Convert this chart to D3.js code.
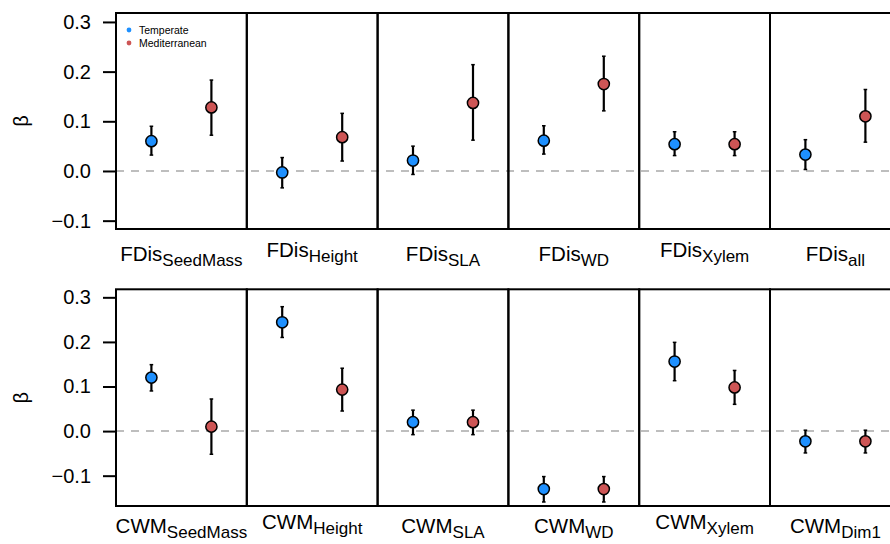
<!DOCTYPE html>
<html>
<head>
<meta charset="utf-8">
<script src="https://cdn.jsdelivr.net/npm/d3@7"></script>
<style>
  body { margin: 0; background: #fff; }
  svg { font-family: "Liberation Sans", Arial, Helvetica, sans-serif; }
</style>
</head>
<body>
<div id="chart"></div>
<script>
// series and categories
const series = ['Temperate', 'Mediterranean'];
const seriesColors = ['#1E90FF', '#CD5555'];
const yTicks = [-0.1, 0, 0.1, 0.2, 0.3];

const fdisTraits = ['SeedMass', 'Height', 'SLA', 'WD', 'Xylem', 'all'];
const cwmTraits = ['SeedMass', 'Height', 'SLA', 'WD', 'Xylem', 'Dim1'];

// FDis estimates (beta) with lower / upper interval
const fdisTemperate = [0.060, -0.003, 0.021, 0.061, 0.054, 0.033];
const fdisTemperateLo = [0.032, -0.034, -0.007, 0.034, 0.031, 0.003];
const fdisTemperateHi = [0.090, 0.027, 0.050, 0.091, 0.079, 0.063];
const fdisMediterranean = [0.128, 0.068, 0.137, 0.175, 0.054, 0.110];
const fdisMediterraneanLo = [0.072, 0.020, 0.062, 0.121, 0.031, 0.058];
const fdisMediterraneanHi = [0.183, 0.116, 0.214, 0.231, 0.079, 0.164];

// CWM estimates
const cwmTemperate = [0.120, 0.244, 0.020, -0.130, 0.156, -0.023];
const cwmTemperateLo = [0.090, 0.210, -0.008, -0.159, 0.113, -0.049];
const cwmTemperateHi = [0.149, 0.279, 0.047, -0.102, 0.199, 0.002];
const cwmMediterranean = [0.010, 0.093, 0.020, -0.130, 0.098, -0.023];
const cwmMediterraneanLo = [-0.052, 0.045, -0.008, -0.159, 0.060, -0.049];
const cwmMediterraneanHi = [0.072, 0.141, 0.047, -0.102, 0.136, 0.002];

const W = 890, H = 544;
const svg = d3.select('#chart').append('svg')
  .attr('width', W).attr('height', H);

function buildRows(traits, est, lo, hi) {
  const rows = [];
  traits.forEach((t, i) => {
    series.forEach((s, j) => {
      rows.push({ trait: t, series: s, color: seriesColors[j], v: est[j][i], lo: lo[j][i], hi: hi[j][i] });
    });
  });
  return rows;
}

function drawRow(opts) {
  const { traits, prefix, top, bottom, domain, rows, labelY, legend } = opts;

  const x = d3.scaleBand().domain(traits).range([116, 116 + 6 * 130.8]).padding(0);
  const xi = d3.scalePoint().domain(series).range([0, x.bandwidth()]).padding(0.59);
  const y = d3.scaleLinear().domain(domain).range([bottom, top]);

  const g = svg.append('g');

  // zero line
  g.append('line')
    .attr('x1', x.range()[0]).attr('x2', x.range()[1])
    .attr('y1', y(0)).attr('y2', y(0))
    .attr('stroke', '#BEBEBE').attr('stroke-width', 2)
    .attr('stroke-dasharray', '8,7');

  // panel boxes
  g.selectAll('rect.panel')
    .data(traits)
    .enter()
    .append('rect')
    .attr('class', 'panel')
    .attr('x', d => x(d))
    .attr('y', top)
    .attr('width', x.bandwidth())
    .attr('height', bottom - top)
    .attr('fill', 'none')
    .attr('stroke', '#000')
    .attr('stroke-width', 2);

  // y axis
  const axis = g.append('g')
    .attr('transform', `translate(116,0)`)
    .call(d3.axisLeft(y).tickValues(yTicks).tickSize(13).tickPadding(12).tickFormat(d3.format('.1f')));
  axis.select('.domain').remove();
  axis.selectAll('line').attr('stroke', '#000').attr('stroke-width', 2);
  axis.selectAll('text').attr('font-size', 20).attr('fill', '#000')
    .attr('font-family', '"Liberation Sans", Arial, sans-serif');

  // beta label
  g.append('text')
    .attr('transform', `translate(28,${(top + bottom) / 2}) rotate(-90)`)
    .attr('text-anchor', 'middle')
    .attr('font-size', 20)
    .text('β');

  // error bars
  const cx = d => x(d.trait) + xi(d.series);
  g.selectAll('line.err')
    .data(rows)
    .enter()
    .append('line')
    .attr('x1', cx).attr('x2', cx)
    .attr('y1', d => y(d.lo)).attr('y2', d => y(d.hi))
    .attr('stroke', '#000').attr('stroke-width', 2.2);

  ['lo', 'hi'].forEach(k => {
    g.selectAll('line.cap' + k)
      .data(rows)
      .enter()
      .append('line')
      .attr('x1', d => cx(d) - 1.8).attr('x2', d => cx(d) + 1.8)
      .attr('y1', d => y(d[k])).attr('y2', d => y(d[k]))
      .attr('stroke', '#000').attr('stroke-width', 1.5);
  });

  // points
  g.selectAll('circle.pt')
    .data(rows)
    .enter()
    .append('circle')
    .attr('cx', cx)
    .attr('cy', d => y(d.v))
    .attr('r', 5.6)
    .attr('fill', d => d.color)
    .attr('stroke', '#000')
    .attr('stroke-width', 1.5);

  // x labels with subscripts
  const lab = g.selectAll('text.xlab')
    .data(traits)
    .enter()
    .append('text')
    .attr('text-anchor', 'middle')
    .attr('x', d => x(d) + x.bandwidth() / 2)
    .attr('y', d => labelY - (/[gjpqy]/.test(d) ? 4 : 0))
    .attr('fill', '#000');
  lab.append('tspan').attr('font-size', 20.5).text(prefix);
  lab.append('tspan').attr('font-size', 17).attr('dy', 5).text(d => d);

  if (legend) {
    const lg = g.append('g');
    series.forEach((s, j) => {
      lg.append('circle').attr('cx', 129).attr('cy', 30 + j * 13).attr('r', 2.4).attr('fill', seriesColors[j]);
      lg.append('text').attr('x', 139).attr('y', 30 + j * 13).attr('dy', '0.35em')
        .attr('font-size', 10.5).text(s);
    });
  }
}

drawRow({
  traits: fdisTraits, prefix: 'FDis', top: 13, bottom: 229, domain: [-0.1168, 0.318], labelY: 261, legend: true,
  rows: buildRows(fdisTraits,
    [fdisTemperate, fdisMediterranean],
    [fdisTemperateLo, fdisMediterraneanLo],
    [fdisTemperateHi, fdisMediterraneanHi])
});

drawRow({
  traits: cwmTraits, prefix: 'CWM', top: 289.3, bottom: 506, domain: [-0.168, 0.318], labelY: 533, legend: false,
  rows: buildRows(cwmTraits,
    [cwmTemperate, cwmMediterranean],
    [cwmTemperateLo, cwmMediterraneanLo],
    [cwmTemperateHi, cwmMediterraneanHi])
});
</script>
</body>
</html>
